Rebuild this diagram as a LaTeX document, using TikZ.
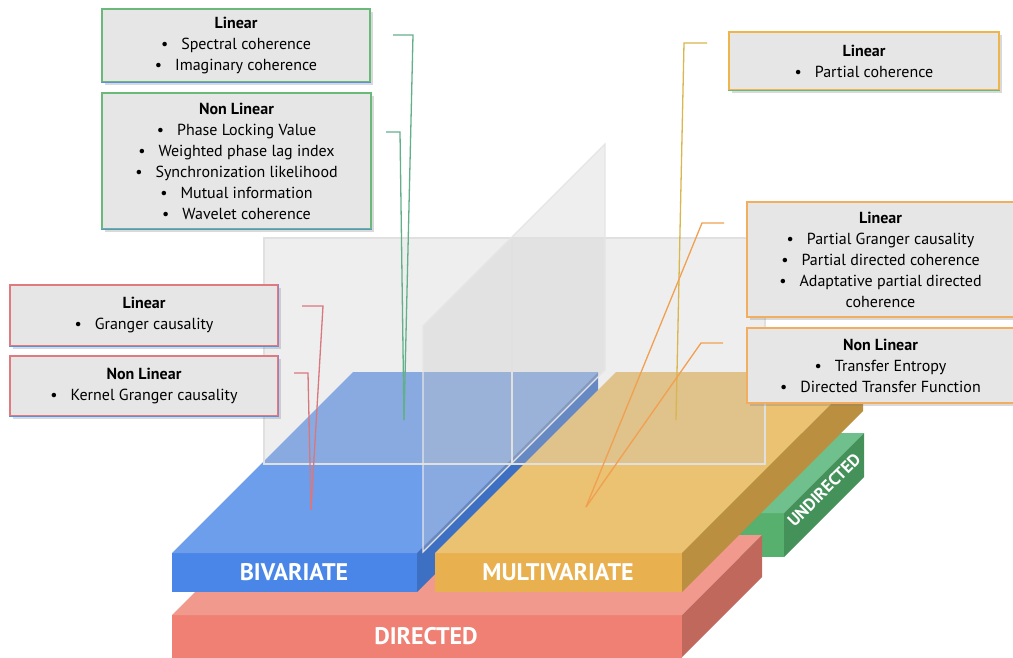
\documentclass[tikz,border=0pt]{standalone}
\usepackage{fontspec}
\setmainfont{PT Sans}
\usetikzlibrary{shadows}

\definecolor{bivtop}{HTML}{6D9EEB}
\definecolor{bivfront}{HTML}{4A86E8}
\definecolor{bivside}{HTML}{3D6FC2}
\definecolor{multop}{HTML}{EBC172}
\definecolor{mulfront}{HTML}{E8B04F}
\definecolor{mulside}{HTML}{BB8F40}
\definecolor{dirtop}{HTML}{F1998D}
\definecolor{dirfront}{HTML}{EF8073}
\definecolor{dirside}{HTML}{C1685D}
\definecolor{undtop}{HTML}{6FC08C}
\definecolor{undfront}{HTML}{57B06E}
\definecolor{undside}{HTML}{44915A}
\definecolor{boxfill}{HTML}{E6E6E6}
\definecolor{greenline}{HTML}{6AB87A}
\definecolor{blueline}{HTML}{5B8FE0}
\definecolor{redline}{HTML}{E07A80}
\definecolor{purpline}{HTML}{A07FC0}
\definecolor{yellline}{HTML}{EDB54A}
\definecolor{orangeline}{HTML}{F2AE5E}
\definecolor{greenlead}{HTML}{62B08A}
\definecolor{redlead}{HTML}{D9777F}
\definecolor{yelllead}{HTML}{D9B650}
\definecolor{orangelead}{HTML}{F0A050}

\newcommand{\bul}[1]{\textbullet\hspace{13pt}#1}

\tikzset{
  infobox/.style={draw=#1, line width=1.2pt, fill=boxfill, align=center,
    inner sep=0pt, font=\fontsize{16}{21}\selectfont,
    drop shadow={shadow xshift=2.5pt, shadow yshift=-2.5pt, opacity=.3}},
  leader/.style={draw=#1, line width=1.3pt},
  slabtext/.style={text=white, font=\fontsize{24}{24}\selectfont\bfseries},
  pane/.style={fill=black!22, fill opacity=.3, draw=black!12, line width=1.2pt}
}

\begin{document}
\begin{tikzpicture}[x=1pt, y=-1pt]
  \def \dep {181}
  \useasboundingbox (0,0) rectangle (1013,657);

  % undirected
  \fill[undfront] (600,513) rectangle (784,557);
  \fill[undtop] (600,513) -- (784,513) -- ++(80,-80) -- ++(-184,0) -- cycle;
  \fill[undside] (784,513) -- ++(80,-80) -- ++(0,44) -- ++(-80,80) -- cycle;

  % directed
  \fill[dirfront] (172,615) rectangle (682,660);
  \fill[dirtop] (172,615) -- (682,615) -- ++(80,-80) -- ++(-510,0) -- cycle;
  \fill[dirside] (682,615) -- ++(80,-80) -- ++(0,42) -- ++(-80,80) -- cycle;

  % bivariate
  \fill[bivfront] (172,553) rectangle (417,592);
  \fill[bivtop] (172,553) -- (417,553) -- ++(\dep,-\dep) -- ++(-245,0) -- cycle;
  \fill[bivside] (417,553) -- ++(\dep,-\dep) -- ++(0,39) -- ++(-\dep,\dep) -- cycle;

  % sagittal glass
  \path[pane, draw=none] (423,552) -- (423,326) -- (605,144) -- (605,370) -- cycle;

  % multivariate
  \fill[mulfront] (435,553) rectangle (682,592);
  \fill[multop] (435,553) -- (682,553) -- ++(\dep,-\dep) -- ++(-247,0) -- cycle;
  \fill[mulside] (682,553) -- ++(\dep,-\dep) -- ++(0,39) -- ++(-\dep,\dep) -- cycle;

  % frontal glass
  \path[pane] (264,238) rectangle (765,464);
  \draw[black!12, line width=1.2pt] (512,238) -- (512,464);
  \draw[black!10, line width=1.2pt] (423,552) -- (423,326) -- (605,144) -- (605,370) -- cycle;

  \node[slabtext] (bivlabel) at (294,572.5) {BIVARIATE};
  \node[slabtext] (mullabel) at (558,572.5) {MULTIVARIATE};
  \node[slabtext] (dirlabel) at (426,636) {DIRECTED};
  \node[slabtext, rotate=45, font=\fontsize{17}{17}\selectfont\bfseries] (undlabel) at (824,490) {UNDIRECTED};

  % leaders
  \coordinate (gsa) at (393,35);
  \coordinate (gsb) at (413,35);
  \coordinate (gna) at (386,132);
  \coordinate (gnb) at (400,132);
  \coordinate (gend) at (404,420);
  \draw[leader=greenlead] (gsa) -- (gsb) -- (gend);
  \draw[leader=greenlead] (gna) -- (gnb) -- (gend);

  \coordinate (rla) at (302,306);
  \coordinate (rlb) at (323,306);
  \coordinate (rna) at (294,373);
  \coordinate (rnb) at (308,373);
  \coordinate (rend) at (311,510);
  \draw[leader=redlead] (rla) -- (rlb) -- (rend);
  \draw[leader=redlead] (rna) -- (rnb) -- (rend);

  \coordinate (yla) at (707,43);
  \coordinate (ylb) at (684,43);
  \coordinate (yend) at (676,420);
  \draw[leader=yelllead] (yla) -- (ylb) -- (yend);

  \coordinate (ola) at (724,223);
  \coordinate (olb) at (702,223);
  \coordinate (ona) at (723,343);
  \coordinate (onb) at (701,343);
  \coordinate (oend) at (586,507);
  \draw[leader=orangelead] (ola) -- (olb) -- (oend);
  \draw[leader=orangelead] (ona) -- (onb) -- (oend);

  % boxes
  \node[infobox=greenline, minimum width=268pt, minimum height=73pt] (undlin) at (236,45.5)
    {\textbf{Linear}\\ \bul{Spectral coherence}\\ \bul{Imaginary coherence}};
  \node[infobox=greenline, minimum width=269pt, minimum height=136pt] (undnon) at (236.5,161)
    {\textbf{Non Linear}\\ \bul{Phase Locking Value}\\ \bul{Weighted phase lag index}\\
     \bul{Synchronization likelihood}\\ \bul{Mutual information}\\ \bul{Wavelet coherence}};
  \node[infobox=redline, minimum width=268pt, minimum height=61pt] (bivlin) at (144,315.5)
    {\textbf{Linear}\\ \bul{Granger causality}};
  \node[infobox=redline, minimum width=268pt, minimum height=60pt] (bivnon) at (144,386)
    {\textbf{Non Linear}\\ \bul{Kernel Granger causality}};
  \node[infobox=yellline, minimum width=270pt, minimum height=58pt] (mullin) at (864,61)
    {\textbf{Linear}\\ \bul{Partial coherence}};
  \node[infobox=orangeline, minimum width=267pt, minimum height=115pt] (dirlin) at (880.5,259.5)
    {\textbf{Linear}\\ \bul{Partial Granger causality}\\ \bul{Partial directed coherence}\\
     \bul{Adaptative partial directed}\\ coherence};
  \node[infobox=orangeline, minimum width=267pt, minimum height=75pt] (dirnon) at (880.5,365.5)
    {\textbf{Non Linear}\\ \bul{Transfer Entropy}\\ \bul{Directed Transfer Function}};

  \foreach \b in {undlin, undnon, bivlin, bivnon}
    \draw[blueline, line width=1.2pt] (\b.south west) -- (\b.south east);
  \draw[greenline, line width=1.2pt] (mullin.south west) -- (mullin.south east);
  \foreach \b in {bivlin, bivnon}
    \draw[purpline, line width=1.2pt] (\b.north east) -- (\b.south east);
\end{tikzpicture}
\end{document}
